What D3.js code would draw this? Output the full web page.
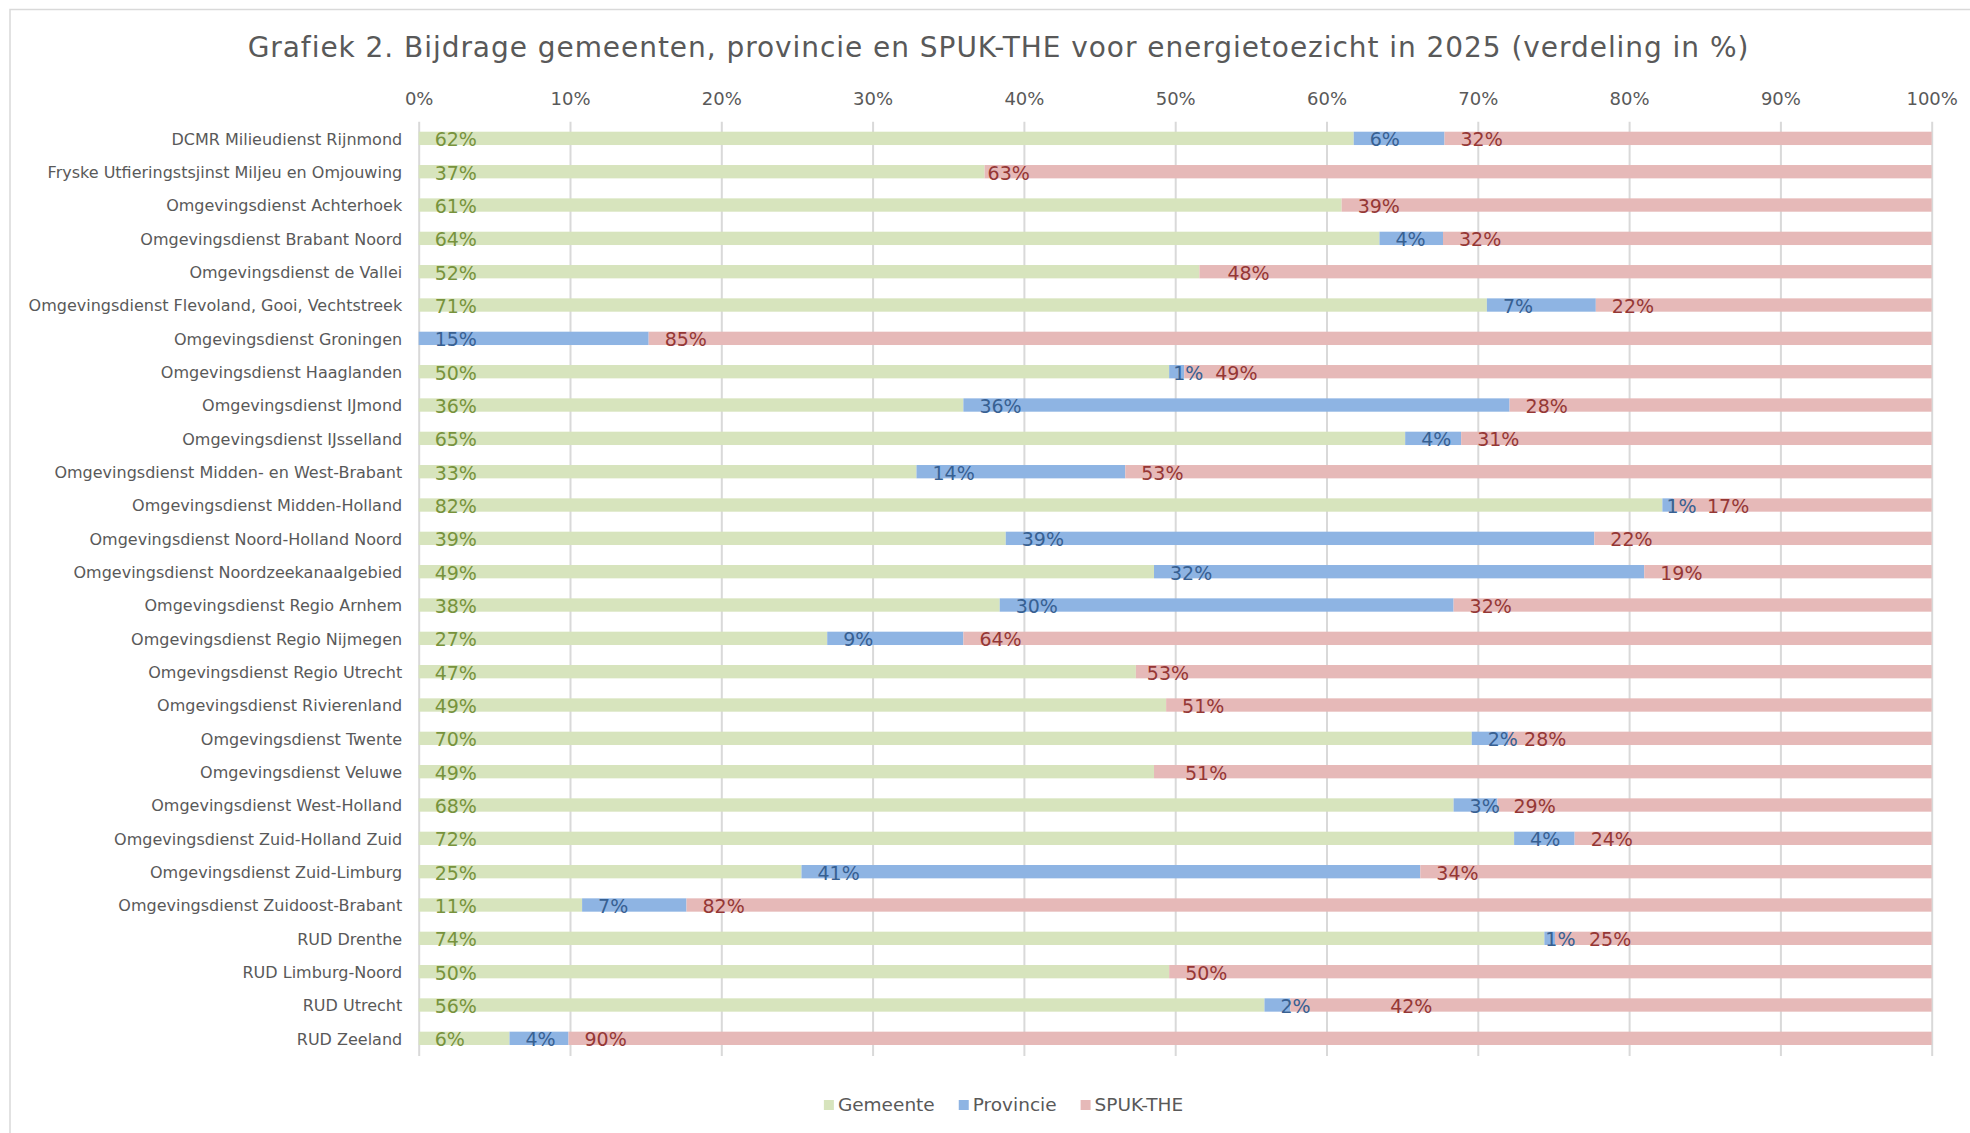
<!DOCTYPE html>
<html>
<head>
<meta charset="utf-8">
<script src="https://cdn.jsdelivr.net/npm/d3@7"></script>
<style>
    body { margin: 0; background: #fff; }
    text { font-family: Verdana, "DejaVu Sans", sans-serif; }
</style>
</head>
<body>
<svg class="chart" width="1970" height="1133"></svg>
<script>
"use strict";
(function () {

    const categories = [
        "DCMR Milieudienst Rijnmond",
        "Fryske Utfieringstsjinst Miljeu en Omjouwing",
        "Omgevingsdienst Achterhoek",
        "Omgevingsdienst Brabant Noord",
        "Omgevingsdienst de Vallei",
        "Omgevingsdienst Flevoland, Gooi, Vechtstreek",
        "Omgevingsdienst Groningen",
        "Omgevingsdienst Haaglanden",
        "Omgevingsdienst IJmond",
        "Omgevingsdienst IJsselland",
        "Omgevingsdienst Midden- en West-Brabant",
        "Omgevingsdienst Midden-Holland",
        "Omgevingsdienst Noord-Holland Noord",
        "Omgevingsdienst Noordzeekanaalgebied",
        "Omgevingsdienst Regio Arnhem",
        "Omgevingsdienst Regio Nijmegen",
        "Omgevingsdienst Regio Utrecht",
        "Omgevingsdienst Rivierenland",
        "Omgevingsdienst Twente",
        "Omgevingsdienst Veluwe ",
        "Omgevingsdienst West-Holland",
        "Omgevingsdienst Zuid-Holland Zuid",
        "Omgevingsdienst Zuid-Limburg",
        "Omgevingsdienst Zuidoost-Brabant",
        "RUD Drenthe",
        "RUD Limburg-Noord",
        "RUD Utrecht",
        "RUD Zeeland"
    ];

    const gemeente = [61.8, 37.4, 61.0, 63.5, 51.6, 70.6, 0, 49.6, 36.0, 65.2, 32.9, 82.2, 38.8, 48.6,
        38.4, 27.0, 47.4, 49.4, 69.6, 48.6, 68.4, 72.4, 25.3, 10.8, 74.4, 49.6, 55.9, 6.0];
    const provincie = [6.0, 0, 0, 4.2, 0, 7.2, 15.2, 1.0, 36.1, 3.7, 13.8, 0.7, 38.9, 32.4,
        30.0, 9.0, 0, 0, 2.4, 0, 2.9, 4.0, 40.9, 6.9, 0.7, 0, 1.7, 3.9];
    const spuk = [32.2, 62.6, 39.0, 32.3, 48.4, 22.2, 84.8, 49.4, 27.9, 31.1, 53.3, 17.1, 22.3, 19.0,
        31.6, 64.0, 52.6, 50.6, 28.0, 51.4, 28.7, 23.6, 33.8, 82.3, 24.9, 50.4, 42.4, 90.1];

    const seriesNames = ["Gemeente", "Provincie", "SPUK-THE"];
    const tickValues = [0, 0.1, 0.2, 0.3, 0.4, 0.5, 0.6, 0.7, 0.8, 0.9, 1];
    const title = "Grafiek 2. Bijdrage gemeenten, provincie en SPUK-THE voor energietoezicht in 2025 (verdeling in %)";

    const BAR_COLORS = ["#d7e4bd", "#8eb4e3", "#e6b9b8"];
    const LABEL_COLORS = ["#77933c", "#376092", "#953735"];
    const TEXT_GREY = "#595959";
    const GRID_GREY = "#d9d9d9";

    // labels that were dragged by hand in the original sheet
    const labelShift = {
        "Fryske Utfieringstsjinst Miljeu en Omjouwing|2": -13,
        "Omgevingsdienst de Vallei|2": 12,
        "Omgevingsdienst Haaglanden|1": -12,
        "Omgevingsdienst Haaglanden|2": 15,
        "Omgevingsdienst Midden-Holland|1": -12,
        "Omgevingsdienst Midden-Holland|2": 18,
        "Omgevingsdienst Regio Utrecht|2": -5,
        "Omgevingsdienst Veluwe |2": 15,
        "RUD Drenthe|1": -15,
        "RUD Drenthe|2": 18,
        "RUD Utrecht|2": 84
    };

    const plot = { left: 418.7, right: 1931.7, top: 121.7, bottom: 1055 };

    const rows = categories.map((name, i) => ({
        name: name,
        Gemeente: gemeente[i],
        Provincie: provincie[i],
        "SPUK-THE": spuk[i]
    }));

    const stacked = d3.stack()
        .keys(seriesNames)
        .offset(d3.stackOffsetExpand)(rows);

    const x = d3.scaleLinear().domain([0, 1]).range([plot.left, plot.right]);
    const y = d3.scaleBand()
        .domain(categories)
        .range([plot.top, plot.bottom])
        .paddingInner(0.6)
        .paddingOuter(0.3);

    const svg = d3.select(".chart");

    svg.append("rect")
        .attr("x", 10)
        .attr("y", 9.5)
        .attr("width", 2000)
        .attr("height", 1200)
        .attr("fill", "#fff")
        .attr("stroke", GRID_GREY)
        .attr("stroke-width", 1.5);

    svg.append("text")
        .attr("x", 998.5)
        .attr("y", 57)
        .attr("text-anchor", "middle")
        .attr("font-size", 28)
        .attr("letter-spacing", 0.95)
        .attr("fill", TEXT_GREY)
        .text(title);

    // gridlines + percent ticks
    const xAxis = svg.append("g")
        .attr("transform", `translate(0,${plot.top})`)
        .call(d3.axisTop(x)
            .tickValues(tickValues)
            .tickFormat(d3.format(".0%"))
            .tickSize(-(plot.bottom - plot.top + 1))
            .tickPadding(16.5));
    xAxis.select(".domain").remove();
    xAxis.selectAll(".tick line")
        .attr("stroke", GRID_GREY)
        .attr("stroke-width", 2);
    xAxis.selectAll(".tick text")
        .attr("font-size", 18)
        .attr("font-family", "Verdana, 'DejaVu Sans', sans-serif")
        .attr("fill", TEXT_GREY);

    const yAxis = svg.append("g")
        .attr("transform", `translate(${plot.left},0)`)
        .call(d3.axisLeft(y).tickSize(0).tickPadding(16.5));
    yAxis.select(".domain").remove();
    yAxis.selectAll(".tick text")
        .attr("font-size", 16)
        .attr("font-family", "Verdana, 'DejaVu Sans', sans-serif")
        .attr("dy", "0.4em")
        .attr("fill", TEXT_GREY);

    const layers = svg.append("g")
        .selectAll("g")
        .data(stacked)
        .join("g")
        .attr("fill", (s, i) => BAR_COLORS[i]);

    layers.selectAll("rect")
        .data(s => s)
        .join("rect")
        .attr("x", d => x(d[0]))
        .attr("y", d => y(d.data.name))
        .attr("width", d => x(d[1]) - x(d[0]))
        .attr("height", y.bandwidth());

    const labels = svg.append("g")
        .selectAll("g")
        .data(stacked)
        .join("g")
        .attr("fill", (s, i) => LABEL_COLORS[i]);

    labels.selectAll("text")
        .data(s => s.map(d => ({ d: d, key: s.key, idx: s.index })).filter(o => o.d.data[o.key] > 0))
        .join("text")
        .attr("x", o => x(o.d[0]) + 16 + (labelShift[o.d.data.name + "|" + o.idx] || 0))
        .attr("y", o => y(o.d.data.name) + y.bandwidth() / 2 + 8)
        .attr("font-size", 19)
        .text(o => Math.round(o.d.data[o.key]) + "%");

    // legend
    const legend = svg.append("g");
    const items = legend.selectAll("g")
        .data(seriesNames)
        .join("g");
    items.append("rect")
        .attr("width", 10)
        .attr("height", 10)
        .attr("y", -11)
        .attr("fill", (s, i) => BAR_COLORS[i]);
    items.append("text")
        .attr("x", 14)
        .attr("font-size", 18.5)
        .attr("fill", TEXT_GREY)
        .text(s => s);

    let cursor = 0;
    items.each(function () {
        const w = 14 + this.querySelector("text").getComputedTextLength();
        d3.select(this).attr("transform", `translate(${cursor},0)`);
        cursor += w + 24;
    });
    const legendWidth = cursor - 24;
    legend.attr("transform", `translate(${1003.5 - legendWidth / 2},1111)`);

})();
</script>
</body>
</html>
